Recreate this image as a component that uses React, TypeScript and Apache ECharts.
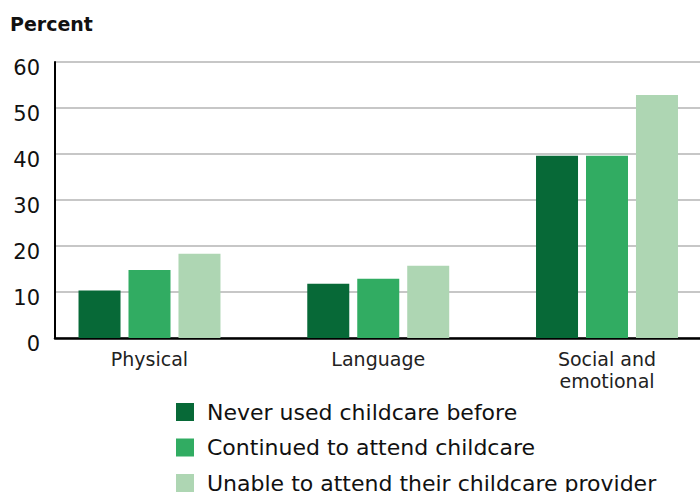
import React, { useEffect, useRef } from "react";
import * as echarts from "echarts";

const categories = ["Physical", "Language", "Social and\nemotional"];
const seriesNames = [
  "Never used childcare before",
  "Continued to attend childcare",
  "Unable to attend their childcare provider",
];
const neverUsed = [10.3, 11.8, 39.6];
const continued = [14.8, 12.9, 39.6];
const unable = [18.3, 15.7, 52.8];
const colors = ["#076937", "#31ac62", "#aed6b3"];
const yTicks = { min: 0, max: 60, interval: 10 };

const FONT = "'DejaVu Sans', sans-serif";

export default function App() {
  const ref = useRef<HTMLDivElement>(null);
  useEffect(() => {
    if (!ref.current) return;
    const chart = echarts.init(ref.current, undefined, { renderer: "svg" });
    const values = [neverUsed, continued, unable];
    chart.setOption({
      animation: false,
      textStyle: { fontFamily: FONT },
      title: {
        text: "Percent",
        left: 5,
        top: 9,
        textStyle: { fontSize: 19, fontWeight: "bold", color: "#111", fontFamily: FONT },
      },
      legend: seriesNames.map((name, i) => ({
        orient: "vertical",
        left: 171,
        top: 396 + i * 35.5,
        itemWidth: 18,
        itemHeight: 18,
        icon: "rect",
        data: [name],
        selectedMode: false,
        textStyle: {
          fontSize: 22,
          color: "#111",
          padding: [0, 0, 0, 8],
          fontFamily: FONT,
        },
      })),
      grid: [
        { left: 55, top: 62, right: 0, bottom: 154 },
        { left: 149.5, top: 62, width: 457.5, bottom: 154 },
      ],
      xAxis: [
        {
          type: "category",
          gridIndex: 0,
          data: categories,
          axisLine: { show: true, lineStyle: { color: "#000", width: 2.5 } },
          axisTick: { show: false },
          axisLabel: { show: false },
          splitLine: { show: false },
        },
        {
          type: "category",
          gridIndex: 1,
          data: categories,
          boundaryGap: false,
          axisLine: { show: false },
          axisTick: { show: false },
          axisLabel: {
            show: true,
            fontSize: 19,
            color: "#222",
            margin: 10,
            lineHeight: 22,
            fontFamily: FONT,
          },
          splitLine: { show: false },
        },
      ],
      yAxis: [
        {
          type: "value",
          gridIndex: 0,
          min: yTicks.min,
          max: yTicks.max,
          interval: yTicks.interval,
          axisLine: { show: true, lineStyle: { color: "#000", width: 2 } },
          axisTick: { show: false },
          axisLabel: {
            fontSize: 21,
            color: "#111",
            margin: 15,
            verticalAlign: "top",
            lineHeight: 12,
            fontFamily: FONT,
          },
          splitLine: { show: true, lineStyle: { color: "#b4b4b4", width: 1.5 } },
        },
        {
          type: "value",
          gridIndex: 1,
          min: yTicks.min,
          max: yTicks.max,
          interval: yTicks.interval,
          show: false,
          splitLine: { show: false },
        },
      ],
      series: seriesNames.map((name, i) => ({
        name,
        type: "bar",
        xAxisIndex: 1,
        yAxisIndex: 1,
        data: values[i],
        barWidth: 42,
        barGap: "19%",
        itemStyle: { color: colors[i] },
      })),
    });
    return () => chart.dispose();
  }, []);
  return <div ref={ref} style={{ width: 700, height: 492, position: "absolute", left: 0, top: 0 }} />;
}
